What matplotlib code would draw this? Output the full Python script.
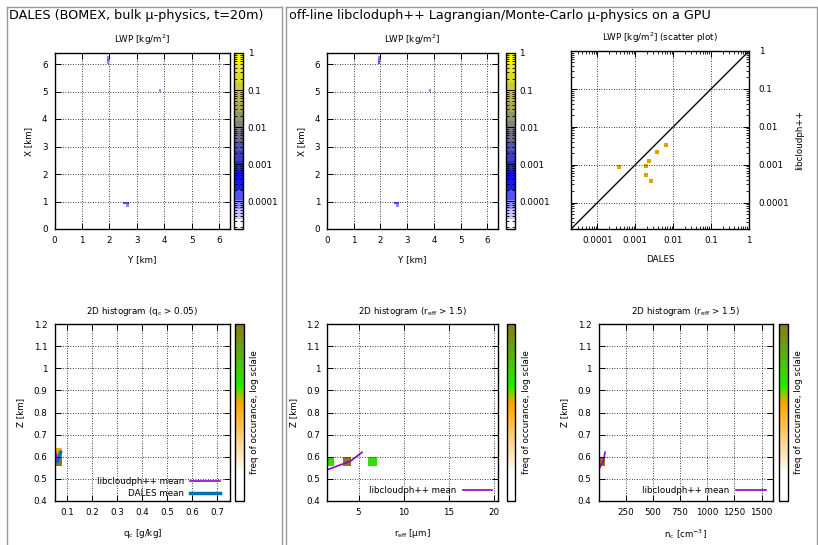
import numpy as np
import matplotlib
matplotlib.use('Agg')
import matplotlib.pyplot as plt
from matplotlib.colors import LinearSegmentedColormap, LogNorm
from matplotlib.ticker import FixedLocator, FuncFormatter, LogLocator, NullFormatter, NullLocator
from matplotlib.lines import Line2D

# ---------------- data ----------------
# LWP maps: cloudy columns on a 0.1 km grid (column index along Y, row index along X)
cloud_col = [19, 19, 19, 38, 25, 26, 26]
cloud_row = [60, 61, 62, 50, 9, 9, 8]
lwp_dales = [1.1e-4, 1.3e-4, 1.0e-4, 0.7e-4, 1.3e-4, 1.2e-4, 1.0e-4]
lwp_lcm = [1.2e-4, 1.4e-4, 1.1e-4, 0.8e-4, 1.4e-4, 1.3e-4, 1.1e-4]
grid_n = 64
domain_km = 6.4

# LWP scatter (DALES vs libcloudph++)
sc_dales = [3.8e-4, 1.9e-3, 2.25e-3, 3.8e-3, 6.5e-3, 1.87e-3, 2.65e-3]
sc_lcm = [8.9e-4, 9.3e-4, 1.22e-3, 2.15e-3, 3.4e-3, 5.4e-4, 3.8e-4]

# 2D histogram (q_c > 0.05)
qc_edges = [0.05, 0.08]
qc_zedges = [0.56, 0.60, 0.64]
qc_freq = [[1.0], [0.13]]
dales_mean_z = [0.58, 0.62]
dales_mean_qc = [0.063, 0.074]
lcm_mean_qc_z = [0.58, 0.62]
lcm_mean_qc = [0.061, 0.054]

# 2D histogram (r_eff > 1.5)
reff_edges = [1.5, 2.3, 3.25, 4.2, 6.05, 7.05]
reff_zedges = [0.56, 0.60]
reff_freq = [[0.25, np.nan, 1.0, np.nan, 0.25]]
lcm_mean_reff_z = [0.54, 0.58, 0.62]
lcm_mean_reff = [1.45, 4.1, 5.4]

# 2D histogram (n_c, r_eff > 1.5)
nc_edges = [0, 61]
nc_zedges = [0.56, 0.60]
nc_freq = [[1.0]]
lcm_mean_nc_z = [0.545, 0.58, 0.62]
lcm_mean_nc = [5, 44, 60]

# ---------------- style ----------------
W, H = 818, 545
FS = 6.3
plt.rcParams['font.family'] = ['DejaVu Sans']
fig = plt.figure(figsize=(W / 100, H / 100), dpi=100)


def rect(x0, x1, y0, y1):
    return [x0 / W, 1 - y1 / H, (x1 - x0) / W, (y1 - y0) / H]


lwp_cmap = LinearSegmentedColormap.from_list(
    'lwp', [(0.0, '#ffffff'), (0.26, '#0000ff'), (0.58, '#808080'), (1.0, '#ffff00')], N=18)
hist_cmap = LinearSegmentedColormap.from_list(
    'hist', [(0.0, '#ffffff'), (0.15, '#ffffff'), (0.55, '#ffa500'), (0.65, '#22ee00'), (1.0, '#8c7820')], N=256)
lwp_norm = LogNorm(vmin=1.8e-5, vmax=1.0)
hist_norm = LogNorm(vmin=0.01, vmax=1.0)

gfmt = FuncFormatter(lambda v, p: f'{v:g}')


def style(ax):
    ax.tick_params(which='major', direction='in', top=True, right=True, length=4,
                   width=0.7, labelsize=FS, pad=5)
    ax.tick_params(which='minor', direction='in', top=True, right=True, length=2, width=0.6)
    for s in ax.spines.values():
        s.set_linewidth(1.0)
    ax.grid(True, which='major', color='black', linestyle=(0, (1, 2)), linewidth=0.6)
    ax.set_axisbelow(False)


# ---------------- frames & titles ----------------
gray = '#9a9a9a'
for xs, ys in [([7, 7], [7, 545]), ([7, 282], [7, 7]), ([282, 282], [7, 545]),
               ([286, 286], [7, 545]), ([286, 817], [7, 7]), ([817, 817], [7, 545])]:
    fig.add_artist(Line2D([x / W for x in xs], [1 - y / H for y in ys], color=gray, lw=1.0))
fig.text(9 / W, 1 - 16 / H, 'DALES (BOMEX, bulk µ-physics, t=20m)', fontsize=9.2, va='center', ha='left')
fig.text(289 / W, 1 - 16 / H, 'off-line libcloduph++ Lagrangian/Monte-Carlo µ-physics on a GPU',
         fontsize=9.2, va='center', ha='left')

# ---------------- LWP maps ----------------
edges = np.linspace(0, domain_km, grid_n + 1)


def lwp_map(ax_rect, cax_rect, values):
    ax = fig.add_axes(rect(*ax_rect))
    field = np.full((grid_n, grid_n), np.nan)
    for c, r, v in zip(cloud_col, cloud_row, values):
        field[r, c] = v
    m = ax.pcolormesh(edges, edges, np.ma.masked_invalid(field), cmap=lwp_cmap, norm=lwp_norm)
    ax.set_xlim(0, domain_km)
    ax.set_ylim(0, domain_km)
    ax.set_xticks(range(0, 7))
    ax.set_yticks(range(0, 7))
    style(ax)
    ax.set_title('LWP [kg/m$^2$]', fontsize=FS, pad=7)
    ax.set_xlabel('Y [km]', fontsize=FS, labelpad=7)
    ax.set_ylabel('X [km]', fontsize=FS, labelpad=6)
    cax = fig.add_axes(rect(*cax_rect))
    cb = fig.colorbar(m, cax=cax)
    cb.outline.set_linewidth(1.0)
    cax.yaxis.set_major_locator(FixedLocator([1e-4, 1e-3, 1e-2, 1e-1, 1]))
    cax.yaxis.set_major_formatter(gfmt)
    cax.yaxis.set_minor_locator(LogLocator(base=10, subs=(2, 3, 4, 5, 6, 7, 8, 9)))
    cax.yaxis.set_minor_formatter(NullFormatter())
    cax.tick_params(which='major', direction='in', left=True, right=True, length=4, width=0.7,
                    labelsize=FS, pad=3)
    cax.tick_params(which='minor', direction='in', left=True, right=True, length=2, width=0.6)
    return ax


lwp_map((54.5, 230, 53, 229), (234, 243.5, 53, 229), lwp_dales)
lwp_map((327, 498, 53, 229), (506, 515, 53, 229), lwp_lcm)

# ---------------- scatter ----------------
ax = fig.add_axes(rect(571, 749, 51, 229))
ax.set_xscale('log')
ax.set_yscale('log')
ax.plot([2e-5, 1], [2e-5, 1], color='black', lw=1.0)
ax.plot(sc_dales, sc_lcm, 's', color='#e69f00', markersize=3, markeredgewidth=0)
ax.set_xlim(2e-5, 1)
ax.set_ylim(2e-5, 1)
for axis in (ax.xaxis, ax.yaxis):
    axis.set_major_locator(FixedLocator([1e-4, 1e-3, 1e-2, 1e-1, 1]))
    axis.set_major_formatter(gfmt)
    axis.set_minor_locator(LogLocator(base=10, subs=(2, 3, 4, 5, 6, 7, 8, 9)))
    axis.set_minor_formatter(NullFormatter())
style(ax)
ax.tick_params(which='both', labelleft=False, labelright=True)
ax.tick_params(axis='y', pad=7)
ax.yaxis.set_label_position('right')
ax.set_ylabel('libcloudph++', fontsize=FS, labelpad=4)
ax.set_xlabel('DALES', fontsize=FS, labelpad=7)
ax.set_title('LWP [kg/m$^2$] (scatter plot)', fontsize=FS, pad=7)


# ---------------- histograms ----------------
def hist_panel(ax_rect, cax_rect, xe, ze, freq, xlim, xticks, xlabel, title):
    ax = fig.add_axes(rect(*ax_rect))
    f = np.ma.masked_invalid(np.array(freq, dtype=float))
    m = ax.pcolormesh(xe, ze, f, cmap=hist_cmap, norm=hist_norm)
    ax.set_xlim(*xlim)
    ax.set_ylim(0.4, 1.2)
    ax.set_xticks(xticks)
    ax.set_yticks(np.arange(0.4, 1.21, 0.1))
    ax.xaxis.set_major_formatter(gfmt)
    ax.yaxis.set_major_formatter(FuncFormatter(lambda v, p: f'{round(v, 2):g}'))
    style(ax)
    ax.set_title(title, fontsize=FS, pad=7)
    ax.set_xlabel(xlabel, fontsize=FS, labelpad=7)
    ax.set_ylabel('Z [km]', fontsize=FS, labelpad=6)
    cax = fig.add_axes(rect(*cax_rect))
    cb = fig.colorbar(m, cax=cax)
    cb.outline.set_linewidth(1.0)
    cax.yaxis.set_major_locator(NullLocator())
    cax.yaxis.set_minor_locator(NullLocator())
    cax.set_ylabel('freq of occurance, log sclale', fontsize=FS, labelpad=5)
    return ax


ax1 = hist_panel((54.5, 230, 324, 501), (234.5, 243.5, 324, 501), qc_edges, qc_zedges, qc_freq,
                 (0.05, 0.75), [0.1, 0.2, 0.3, 0.4, 0.5, 0.6, 0.7],
                 'q$_\\mathrm{c}$ [g/kg]', '2D histogram (q$_\\mathrm{c}$ > 0.05)')
ax1.plot(lcm_mean_qc, lcm_mean_qc_z, color='#9400d3', lw=1.2, label='libcloudph++ mean')
ax1.plot(dales_mean_qc, dales_mean_z, color='#0072b2', lw=2.5, label='DALES mean')
ax1.legend(loc='lower right', bbox_to_anchor=(0.943, 0.015), frameon=False, fontsize=FS,
           markerfirst=False, handlelength=3.4, handletextpad=0.7, borderpad=0,
           borderaxespad=0, labelspacing=0.35)

ax2 = hist_panel((327, 498, 324, 501), (506.5, 515, 324, 501), reff_edges, reff_zedges, reff_freq,
                 (1.5, 20.5), [5, 10, 15, 20],
                 'r$_\\mathrm{eff}$ [µm]', '2D histogram (r$_\\mathrm{eff}$ > 1.5)')
ax2.plot(lcm_mean_reff, lcm_mean_reff_z, color='#9400d3', lw=1.2, label='libcloudph++ mean')
ax2.legend(loc='lower right', bbox_to_anchor=(0.967, 0.035), frameon=False, fontsize=FS,
           markerfirst=False, handlelength=3.4, handletextpad=0.7, borderpad=0, borderaxespad=0)

ax3 = hist_panel((598.5, 772.5, 324, 501), (779, 787.5, 324, 501), nc_edges, nc_zedges, nc_freq,
                 (0, 1600), [250, 500, 750, 1000, 1250, 1500],
                 'n$_\\mathrm{c}$ [cm$^{-3}$]', '2D histogram (r$_\\mathrm{eff}$ > 1.5)')
ax3.plot(lcm_mean_nc, lcm_mean_nc_z, color='#9400d3', lw=1.2, label='libcloudph++ mean')
ax3.legend(loc='lower right', bbox_to_anchor=(0.96, 0.035), frameon=False, fontsize=FS,
           markerfirst=False, handlelength=3.4, handletextpad=0.7, borderpad=0, borderaxespad=0)

fig.savefig('out.png', dpi=100)
